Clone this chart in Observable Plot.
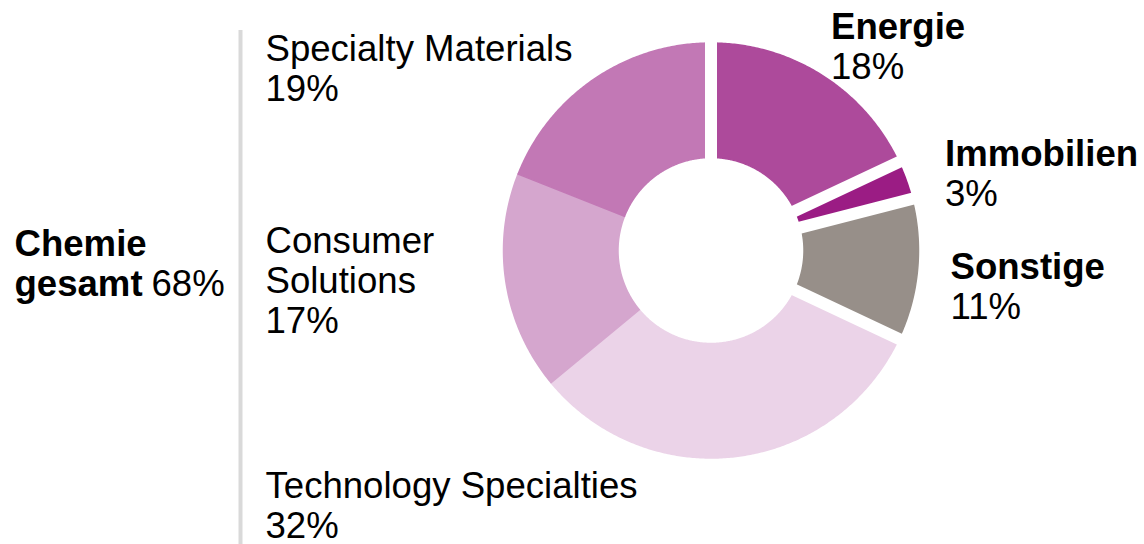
<!DOCTYPE html>
<html><head><meta charset="utf-8">
<script src="https://cdn.jsdelivr.net/npm/d3@7"></script>
<script src="https://cdn.jsdelivr.net/npm/@observablehq/plot@0.6"></script>
<style>body{margin:0;background:#fff} svg{display:block}</style>
</head><body><div id="chart"></div>
<script>
// ---- data ----
const segments = ["Energie", "Immobilien", "Sonstige", "Technology Specialties", "Consumer Solutions", "Specialty Materials"];
const shares = [18, 3, 11, 32, 17, 19];
const segmentColors = ["#ad4a9b", "#9b1c84", "#978f89", "#ebd3e8", "#d5a6ce", "#c278b5"];
const segmentGroup = ["other", "other", "other", "chemie", "chemie", "chemie"];
const labelLines = [["Energie"], ["Immobilien"], ["Sonstige"], ["Technology Specialties"], ["Consumer", "Solutions"], ["Specialty Materials"]];
const chemieLabel = ["Chemie", "gesamt"];
const chemieShare = 68;

// ---- layout ----
const W = 1144, H = 544;
const center = {x: 710.5, y: 250};
const rOuter = 207.5, rInner = 93, gapWidth = 12;
const labelPos = [
  {x: 830.5, y: 38, bold: true},
  {x: 944.5, y: 165, bold: true},
  {x: 950, y: 278, bold: true},
  {x: 265, y: 497.5, bold: false},
  {x: 265, y: 252, bold: false},
  {x: 265, y: 60, bold: false}
];
const chemiePos = {x: 14, y: 255, pctX: 151};
const lineStep = 40, fontSize = 36.6;
const font = "'Liberation Sans', Arial, Helvetica, sans-serif";
const dividerLine = [{x: 240, y1: 30, y2: 544}];

// ---- geometry from data ----
const total = d3.sum(shares);
const ends = Array.from(d3.cumsum(shares));
const slices = segments.map((s, i) => ({
  segment: s,
  a0: (ends[i] - shares[i]) / total * 2 * Math.PI,
  a1: ends[i] / total * 2 * Math.PI
}));
const pt = (a, r) => ({x: center.x + r * Math.sin(a), y: center.y - r * Math.cos(a)});
const polyData = slices.flatMap(s => {
  const n = Math.max(4, Math.ceil((s.a1 - s.a0) / (Math.PI / 360)));
  const outer = d3.range(n + 1).map(k => pt(s.a0 + (s.a1 - s.a0) * k / n, rOuter));
  const inner = d3.range(n + 1).map(k => pt(s.a1 - (s.a1 - s.a0) * k / n, rInner));
  return [...outer, ...inner].map(p => ({...p, segment: s.segment}));
});
const gaps = slices
  .filter((s, i) => segmentGroup[i] === "other" || segmentGroup[(i + slices.length - 1) % slices.length] === "other")
  .map(s => {
    const p0 = pt(s.a0, rInner - 10), p1 = pt(s.a0, rOuter + 10);
    return {x1: p0.x, y1: p0.y, x2: p1.x, y2: p1.y};
  });

// ---- label rows ----
const boldRows = [], normalRows = [];
segments.forEach((s, i) => {
  const pos = labelPos[i];
  labelLines[i].forEach((t, j) => (pos.bold ? boldRows : normalRows).push({x: pos.x, y: pos.y + j * lineStep, text: t}));
  normalRows.push({x: pos.x, y: pos.y + labelLines[i].length * lineStep, text: `${shares[i]}%`});
});
chemieLabel.forEach((t, j) => boldRows.push({x: chemiePos.x, y: chemiePos.y + j * lineStep, text: t}));
normalRows.push({x: chemiePos.pctX, y: chemiePos.y + (chemieLabel.length - 1) * lineStep, text: `${chemieShare}%`});

const chart = Plot.plot({
  width: W, height: H,
  margin: 0,
  x: {domain: [0, W], range: [0, W], axis: null},
  y: {domain: [0, H], range: [0, H], axis: null},
  color: {domain: segments, range: segmentColors},
  style: {fontFamily: font, background: "#fff"},
  marks: [
    Plot.ruleX(dividerLine, {x: "x", y1: "y1", y2: "y2", stroke: "#d9d9d9", strokeWidth: 4}),
    Plot.line(polyData, {x: "x", y: "y", z: "segment", fill: "segment", stroke: "segment", strokeWidth: 1.5, strokeLinejoin: "round", curve: "linear-closed"}),
    Plot.link(gaps, {x1: "x1", y1: "y1", x2: "x2", y2: "y2", stroke: "#fff", strokeWidth: gapWidth, strokeLinecap: "butt"}),
    Plot.text(boldRows, {x: "x", y: "y", text: "text", textAnchor: "start", lineAnchor: "bottom", fontSize, fontWeight: "bold", fill: "#000", fontFamily: font}),
    Plot.text(normalRows, {x: "x", y: "y", text: "text", textAnchor: "start", lineAnchor: "bottom", fontSize, fontWeight: "normal", fill: "#000", fontFamily: font})
  ]
});
document.getElementById("chart").appendChild(chart);
</script>
</body></html>
